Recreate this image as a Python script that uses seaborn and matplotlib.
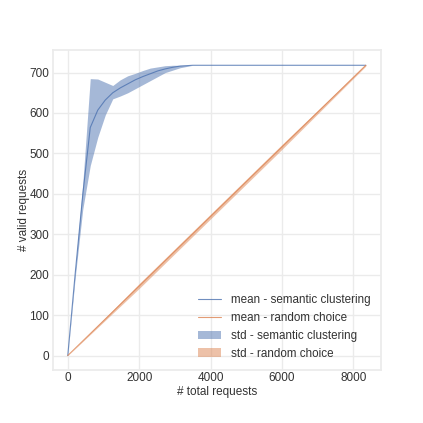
import matplotlib
matplotlib.use("Agg")
import matplotlib.pyplot as plt
import numpy as np
import pandas as pd
import seaborn as sns

# semantic clustering: total requests vs valid requests (mean and std band)
sem_total = [0, 210, 420, 630, 840, 1050, 1260, 1470, 1680, 1890, 2100,
             2310, 2520, 2730, 2940, 3150, 3500, 8350]
sem_mean = [0, 205, 398, 564, 607, 632, 650, 662, 672, 682, 690,
            697, 704, 709, 713, 716, 718, 718]
sem_upper = [0, 215, 425, 685, 684, 676, 668, 682, 692, 698, 705,
             711, 714, 717, 718, 718, 718, 718]
sem_lower = [0, 195, 362, 470, 540, 595, 635, 642, 650, 660, 670,
             680, 690, 700, 706, 712, 718, 718]

# random choice
rnd_total = [0, 2000, 4000, 6000, 8350]
rnd_mean = [0, 172, 344, 516, 718]
rnd_upper = [0, 178, 350, 522, 720]
rnd_lower = [0, 166, 338, 510, 716]

sns.set_theme(style="whitegrid", rc={"grid.color": "#ebebeb",
                                     "axes.edgecolor": "#ebebeb",
                                     "text.color": "#333333",
                                     "xtick.color": "#333333",
                                     "ytick.color": "#333333",
                                     "axes.labelcolor": "#333333"})
plt.rcParams["font.family"] = ["Liberation Sans", "DejaVu Sans"]

blue, orange = sns.color_palette("deep")[:2]

df_sem = pd.DataFrame({"total": sem_total, "valid": sem_mean})
df_rnd = pd.DataFrame({"total": rnd_total, "valid": rnd_mean})

fig, ax = plt.subplots(figsize=(4.23, 4.23), dpi=100)
fig.subplots_adjust(left=0.125, right=0.9, top=0.882, bottom=0.125)

sns.lineplot(data=df_sem, x="total", y="valid", ax=ax, color=blue,
             linewidth=0.8, alpha=0.8, label="mean - semantic clustering")
sns.lineplot(data=df_rnd, x="total", y="valid", ax=ax, color=orange,
             linewidth=0.8, alpha=0.8, label="mean - random choice")
ax.fill_between(sem_total, sem_lower, sem_upper, color=blue, alpha=0.5,
                linewidth=0, label="std - semantic clustering")
ax.fill_between(rnd_total, rnd_lower, rnd_upper, color=orange, alpha=0.5,
                linewidth=0, label="std - random choice")

ax.set_xlabel("# total requests", fontsize=8.5, labelpad=1)
ax.set_ylabel("# valid requests", fontsize=8.5, labelpad=0)
ax.tick_params(axis="x", labelsize=8.5, pad=1.5, length=0)
ax.tick_params(axis="y", labelsize=8.5, pad=2.5, length=0)
ax.legend(loc="lower right", frameon=False, fontsize=8.4)

fig.savefig("out.png", dpi=100)
